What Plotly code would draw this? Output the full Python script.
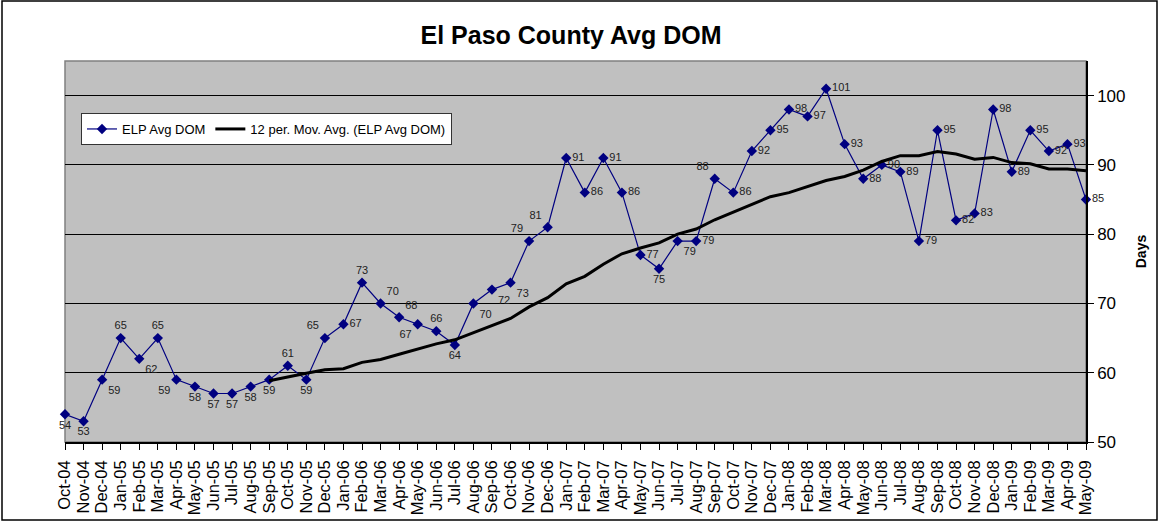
import plotly.graph_objects as go
import pandas as pd

months = ["Oct-04","Nov-04","Dec-04",
          "Jan-05","Feb-05","Mar-05","Apr-05","May-05","Jun-05","Jul-05","Aug-05","Sep-05","Oct-05","Nov-05","Dec-05",
          "Jan-06","Feb-06","Mar-06","Apr-06","May-06","Jun-06","Jul-06","Aug-06","Sep-06","Oct-06","Nov-06","Dec-06",
          "Jan-07","Feb-07","Mar-07","Apr-07","May-07","Jun-07","Jul-07","Aug-07","Sep-07","Oct-07","Nov-07","Dec-07",
          "Jan-08","Feb-08","Mar-08","Apr-08","May-08","Jun-08","Jul-08","Aug-08","Sep-08","Oct-08","Nov-08","Dec-08",
          "Jan-09","Feb-09","Mar-09","Apr-09","May-09"]
avg_dom = [54,53,59,
           65,62,65,59,58,57,57,58,59,61,59,65,
           67,73,70,68,67,66,64,70,72,73,79,81,
           91,86,91,86,77,75,79,79,88,86,92,95,
           98,97,101,93,88,90,89,79,95,82,83,98,
           89,95,92,93,85]
label_pos = ["bottom center","bottom center","bottom right",
             "top center","bottom right","top center","bottom left","bottom center","bottom center","bottom center","bottom center","bottom center","top center","bottom center","top left",
             "middle right","top center","top right","top right","bottom left","top center","bottom center","bottom right","bottom right","bottom right","top left","top left",
             "middle right","middle right","middle right","middle right","middle right","bottom center","bottom right","middle right","top left","middle right","middle right","middle right",
             "middle right","middle right","middle right","middle right","middle right","middle right","middle right","middle right","middle right","middle right","middle right","middle right",
             "middle right","middle right","middle right","middle right","middle right"]
y_ticks = [50, 60, 70, 80, 90, 100]

x = list(range(len(months)))
mov_avg = pd.Series(avg_dom).rolling(12).mean()

W, H = 1159, 522
ml, mr, mt, mb = 65, 73, 61, 80
pw, ph = W - ml - mr, H - mt - mb

fig = go.Figure()
fig.add_trace(go.Scatter(
    x=x, y=avg_dom, mode="lines+markers+text", name="ELP Avg DOM",
    line=dict(color="#000080", width=1.2),
    marker=dict(symbol="diamond", size=8, color="#000080"),
    text=[str(v) for v in avg_dom], textposition=label_pos,
    textfont=dict(family="Liberation Sans, Arial", size=11, color="#222222"),
    cliponaxis=False,
))
fig.add_trace(go.Scatter(
    x=x, y=mov_avg, mode="lines", name="12 per. Mov. Avg. (ELP Avg DOM)",
    line=dict(color="black", width=3),
    cliponaxis=False,
))

fig.update_layout(
    width=W, height=H,
    margin=dict(l=ml, r=mr, t=mt, b=mb, autoexpand=False),
    paper_bgcolor="white",
    plot_bgcolor="#C0C0C0",
    font=dict(family="Liberation Sans, Arial", color="black"),
    title=dict(text="<b>El Paso County Avg DOM</b>", x=571/W, xanchor="center",
               y=1 - 35/H, yanchor="middle",
               font=dict(size=25, family="Liberation Sans, Arial", color="black")),
    showlegend=True,
    legend=dict(orientation="h", x=16/pw, y=1 - (113-mt)/ph, xanchor="left", yanchor="top",
                bgcolor="white", bordercolor="#333333", borderwidth=1,
                font=dict(size=13, family="Liberation Sans, Arial"),
                itemwidth=30, tracegroupgap=0),
    xaxis=dict(range=[0, len(months)-1], tickmode="array", tickvals=x, ticktext=months,
               tickangle=-90, tickfont=dict(size=16.5), showgrid=False, zeroline=False,
               ticks="outside", ticklen=6, tickcolor="black", automargin=False,
               ticklabelstandoff=4,
               showline=True, linecolor="black", linewidth=1.5),
    yaxis=dict(range=[50, 105], side="right", tickmode="array", tickvals=y_ticks,
               tickfont=dict(size=17), showgrid=True, gridcolor="black", gridwidth=1,
               zeroline=False, ticks="outside", ticklen=6, tickcolor="black",
               showline=True, linecolor="black", linewidth=1.5, automargin=False,
               title=dict(text="<b>Days</b>", font=dict(size=14), standoff=12)),
)

# plot area border (gray)
fig.add_shape(type="rect", xref="paper", yref="paper", x0=0, y0=0, x1=1, y1=1,
              line=dict(color="#808080", width=1.5), layer="below")
# outer chart border
fig.add_shape(type="rect", xref="paper", yref="paper",
              x0=(2 - ml)/pw, x1=(W - 2 - ml)/pw,
              y0=-(mb - 2)/ph, y1=1 + (mt - 1)/ph,
              line=dict(color="black", width=1.5))

fig.write_html("out.html", config={"displayModeBar": False},
               post_script="document.body.style.margin='0';document.body.style.overflow='hidden';")
